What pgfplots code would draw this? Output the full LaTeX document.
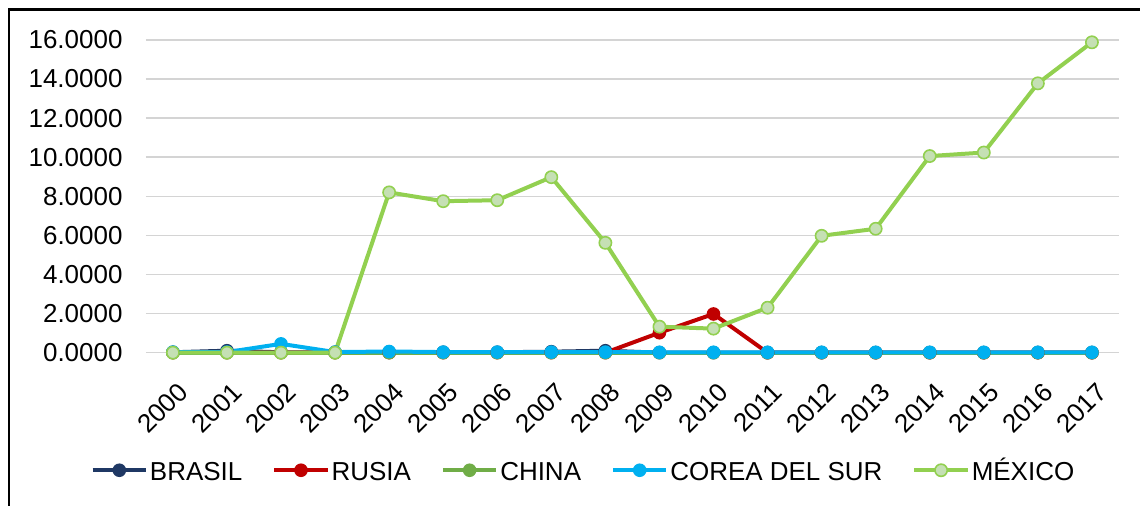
\documentclass[border=0pt]{standalone}
\usepackage{pgfplots}
\pgfplotsset{compat=1.18}
\usepackage{fontspec}
\setmainfont{Liberation Sans}
\definecolor{cBR}{HTML}{1F3864}
\definecolor{cRU}{HTML}{C00000}
\definecolor{cCH}{HTML}{70AD47}
\definecolor{cCO}{HTML}{00B0F0}
\definecolor{cMX}{HTML}{92D050}
\definecolor{cMXf}{HTML}{C5E0B4}
\begin{document}
\begin{tikzpicture}[x=0.75pt,y=0.75pt]
\path (0,0) rectangle (1140,505);
\draw[line width=1.6pt,line cap=rect] (9,0) -- (9,495.5) -- (1140,495.5);
\begin{axis}[
  at={(109.5pt,114pt)}, anchor=south west,
  scale only axis, width=730.5pt, height=234.75pt,
  xmin=-0.5, xmax=17.5, ymin=0, ymax=16,
  axis line style={draw=none},
  xtick={0,...,17},
  xticklabels={2000,2001,2002,2003,2004,2005,2006,2007,2008,2009,2010,2011,2012,2013,2014,2015,2016,2017},
  ytick={0,2,...,16},
  major tick length=0pt,
  ymajorgrids, major grid style={draw=black!17, line width=1.2pt},
  tick label style={font=\fontsize{19.5}{23}\selectfont},
  /pgf/number format/.cd, fixed, fixed zerofill, precision=4, 1000 sep={}, assume math mode=true,
  /pgfplots/.cd,
  yticklabel style={anchor=east, xshift=-14pt},
  xticklabel style={rotate=45, anchor=east, inner sep=1pt, yshift=-24pt, xshift=-12pt},
  clip=false,
  legend columns=5,
  legend style={draw=none, fill=none, at={(0.4497,-0.376)}, anchor=center,
    font=\fontsize{19.5}{23}\selectfont,
    /tikz/every even column/.append style={column sep=21pt},
    nodes={inner sep=1.5pt}},
  legend image code/.code={\draw[mark repeat=2,mark phase=2] plot coordinates {(0pt,0pt)(20pt,0pt)(40pt,0pt)};},
  every axis plot/.append style={line width=3pt, mark=*, mark size=4.6pt},
]
\addplot[color=cBR, mark options={fill=cBR, draw=cBR, line width=1pt}] coordinates {(0,0.02)(1,0.1)(2,0.02)(3,0.02)(4,0.02)(5,0.02)(6,0.02)(7,0.05)(8,0.1)(9,0)(10,0)(11,0)(12,0)(13,0)(14,0)(15,0)(16,0)(17,0)};
\addlegendentry{\vphantom{É}BRASIL}
\addplot[color=cRU, mark options={fill=cRU, draw=cRU, line width=1pt}] coordinates {(0,0)(1,0)(2,0)(3,0)(4,0)(5,0)(6,0)(7,0)(8,0)(9,1.02)(10,1.98)(11,0)(12,0)(13,0)(14,0)(15,0)(16,0)(17,0)};
\addlegendentry{\vphantom{É}RUSIA}
\addplot[color=cCH, mark options={fill=cCH, draw=cCH, line width=1pt}] coordinates {(0,0)(1,0)(2,0)(3,0)(4,0)(5,0)(6,0)(7,0)(8,0)(9,0)(10,0)(11,0)(12,0)(13,0)(14,0)(15,0)(16,0)(17,0)};
\addlegendentry{\vphantom{É}CHINA}
\addplot[color=cCO, mark options={fill=cCO, draw=cCO, line width=1pt}] coordinates {(0,0.03)(1,0.03)(2,0.45)(3,0.03)(4,0.06)(5,0.03)(6,0.03)(7,0.03)(8,0.03)(9,0.02)(10,0.02)(11,0.02)(12,0.02)(13,0.02)(14,0.02)(15,0.02)(16,0.02)(17,0.02)};
\addlegendentry{\vphantom{É}COREA DEL SUR}
\addplot[color=cMX, mark options={fill=cMXf, draw=cMX, line width=1.2pt}] coordinates {(0,0)(1,0)(2,0)(3,0)(4,8.2)(5,7.75)(6,7.8)(7,8.98)(8,5.62)(9,1.33)(10,1.23)(11,2.3)(12,5.98)(13,6.34)(14,10.06)(15,10.24)(16,13.78)(17,15.88)};
\addlegendentry{MÉXICO}
\end{axis}
\end{tikzpicture}
\end{document}
